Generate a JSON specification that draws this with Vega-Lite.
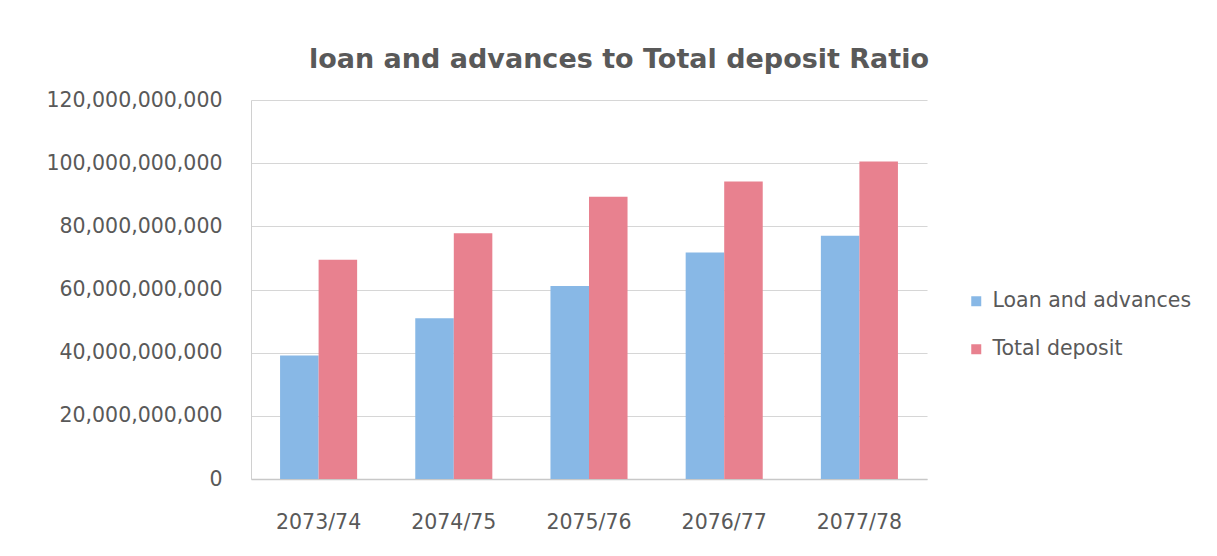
{
  "$schema": "https://vega.github.io/schema/vega-lite/v6.json",
  "autosize": {"type": "none"},
  "width": 676,
  "height": 379,
  "padding": {"left": 251, "top": 100, "right": 290, "bottom": 77},
  "background": "white",
  "title": {
    "text": "loan and advances to Total deposit Ratio",
    "font": "DejaVu Sans",
    "fontSize": 27,
    "fontWeight": "bold",
    "color": "#595959",
    "anchor": "middle",
    "frame": "group",
    "dx": 30,
    "offset": 16
  },
  "data": {
    "values": [
      {"year": "2073/74", "series": "Loan and advances", "value": 39100000000},
      {"year": "2073/74", "series": "Total deposit", "value": 69400000000},
      {"year": "2074/75", "series": "Loan and advances", "value": 50900000000},
      {"year": "2074/75", "series": "Total deposit", "value": 77800000000},
      {"year": "2075/76", "series": "Loan and advances", "value": 61100000000},
      {"year": "2075/76", "series": "Total deposit", "value": 89400000000},
      {"year": "2076/77", "series": "Loan and advances", "value": 71700000000},
      {"year": "2076/77", "series": "Total deposit", "value": 94200000000},
      {"year": "2077/78", "series": "Loan and advances", "value": 77000000000},
      {"year": "2077/78", "series": "Total deposit", "value": 100500000000}
    ]
  },
  "mark": {"type": "bar"},
  "encoding": {
    "x": {
      "field": "year",
      "type": "nominal",
      "scale": {"paddingInner": 0.43, "paddingOuter": 0.215},
      "axis": {
        "title": null,
        "labelAngle": 0,
        "labelFont": "DejaVu Sans",
        "labelFontSize": 20.5,
        "labelColor": "#595959",
        "labelPadding": 33,
        "ticks": false,
        "domainColor": "#c8c8c8",
        "domainWidth": 1.5
      }
    },
    "xOffset": {"field": "series", "type": "nominal", "scale": {"paddingInner": 0}},
    "y": {
      "field": "value",
      "type": "quantitative",
      "scale": {"domain": [0, 120000000000], "nice": false},
      "axis": {
        "title": null,
        "values": [0, 20000000000, 40000000000, 60000000000, 80000000000, 100000000000, 120000000000],
        "format": ",d",
        "labelFont": "DejaVu Sans",
        "labelFontSize": 20.5,
        "labelColor": "#595959",
        "labelPadding": 29,
        "ticks": false,
        "domain": true,
        "domainColor": "#d0d0d0",
        "gridColor": "#d6d6d6",
        "gridWidth": 1.2
      }
    },
    "color": {
      "field": "series",
      "type": "nominal",
      "scale": {"domain": ["Loan and advances", "Total deposit"], "range": ["#88b8e6", "#e8818f"]},
      "legend": {
        "title": null,
        "orient": "none",
        "legendX": 715,
        "legendY": 191,
        "symbolType": "square",
        "symbolSize": 100,
        "symbolStrokeWidth": 0,
        "labelFont": "DejaVu Sans",
        "labelFontSize": 20.5,
        "labelColor": "#595959",
        "labelOffset": 6,
        "labelLimit": 0,
        "rowPadding": 27
      }
    }
  },
  "config": {"view": {"stroke": null}}
}
